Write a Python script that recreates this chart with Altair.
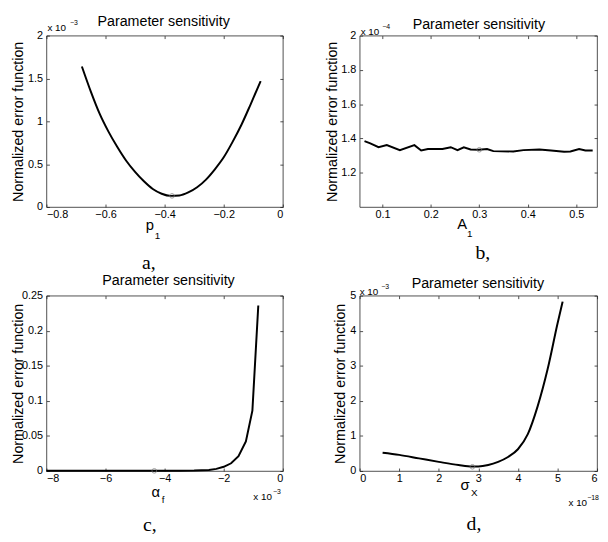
import altair as alt
import pandas as pd

# ---------------- data ----------------
xa = [-0.68, -0.65, -0.62, -0.59, -0.56, -0.53, -0.50, -0.47, -0.44, -0.41, -0.38,
      -0.35, -0.32, -0.29, -0.26, -0.23, -0.20, -0.17, -0.14, -0.11, -0.075]
ya = [1.64, 1.35, 1.09, 0.88, 0.70, 0.54, 0.41, 0.30, 0.21, 0.155, 0.13,
      0.135, 0.17, 0.23, 0.32, 0.44, 0.58, 0.76, 0.96, 1.19, 1.47]
ma = [-0.375, 0.13]

xb = [0.063, 0.075, 0.092, 0.109, 0.136, 0.166, 0.180, 0.194, 0.224, 0.241, 0.255, 0.268,
      0.282, 0.299, 0.316, 0.329, 0.370, 0.391, 0.424, 0.448, 0.475, 0.488, 0.506, 0.519, 0.534]
yb = [1.384, 1.371, 1.349, 1.361, 1.332, 1.361, 1.330, 1.338, 1.338, 1.349, 1.332, 1.348,
      1.336, 1.334, 1.338, 1.326, 1.324, 1.332, 1.336, 1.330, 1.322, 1.324, 1.338, 1.330, 1.330]
mb = [0.30, 1.334]

xc = [-8, -7, -6, -5, -4, -3.5, -3, -2.5, -2.25, -2, -1.75, -1.5, -1.25, -1.03, -0.83]
yc = [0.0005, 0.0004, 0.0003, 0.0002, 0.0002, 0.0003, 0.0006, 0.0015, 0.003, 0.006,
      0.011, 0.021, 0.042, 0.086, 0.236]
mc = [-4.35, 0.0002]

xd = [0.58, 1.0, 1.5, 2.0, 2.5, 2.85, 3.0, 3.25, 3.5, 3.75, 4.0, 4.25, 4.5, 4.75, 5.0, 5.13]
yd = [0.52, 0.46, 0.36, 0.26, 0.17, 0.13, 0.13, 0.17, 0.26, 0.40, 0.62, 1.05, 1.85, 2.9, 4.2, 4.83]
md = [2.85, 0.12]

ticks_xa = [-0.8, -0.6, -0.4, -0.2, 0]
ticks_ya = [0, 0.5, 1, 1.5, 2]
ticks_xb = [0.1, 0.2, 0.3, 0.4, 0.5]
ticks_yb = [1.2, 1.4, 1.6, 1.8, 2.0]
ticks_xc = [-8, -6, -4, -2, 0]
ticks_yc = [0, 0.05, 0.1, 0.15, 0.2, 0.25]
ticks_xd = [0, 1, 2, 3, 4, 5, 6]
ticks_yd = [0, 1, 2, 3, 4, 5]

TITLE = "Parameter sensitivity"
YTITLE = "Normalized error function"
SANS = "Liberation Sans"
SERIF = "Liberation Serif"
TK = 3


def axis(orient, values, labels=True, title=None, title_x=None):
    kw = dict(orient=orient, values=values, labels=labels, ticks=True, tickSize=TK,
              offset=-TK, domain=False, grid=False, tickColor="#222", tickWidth=0.8,
              labelFont=SANS, labelFontSize=11, labelColor="black", format="~g")
    if orient in ("bottom", "top"):
        kw["labelPadding"] = 2
    else:
        kw["labelPadding"] = 4
    if title is not None:
        kw.update(title=title, titleFont=SANS, titleFontSize=14.5, titleFontWeight="normal",
                  titleColor="black", titlePadding=5)
        if title_x is not None:
            kw["titleX"] = title_x
    else:
        kw["title"] = None
    return alt.Axis(**kw)


def text_layer(txt, px, py, size, font=SANS, align="left"):
    return alt.Chart(pd.DataFrame({"t": [txt]})).mark_text(
        font=font, fontSize=size, align=align, baseline="alphabetic", color="black"
    ).encode(x=alt.value(px), y=alt.value(py), text="t:N")


def panel(xs, ys, m, xdom, ydom, xt, yt, w, h, notes, title_x, interp="linear"):
    df = pd.DataFrame({"x": xs, "y": ys})
    mdf = pd.DataFrame({"x": [m[0]], "y": [m[1]]})
    xs_ = alt.Scale(domain=xdom, nice=False, zero=False)
    ys_ = alt.Scale(domain=ydom, nice=False, zero=False)
    line = alt.Chart(df).mark_line(color="black", strokeWidth=2, interpolate=interp).encode(
        x=alt.X("x:Q", scale=xs_, axis=axis("bottom", xt)),
        y=alt.Y("y:Q", scale=ys_, axis=axis("left", yt, title=YTITLE, title_x=title_x)),
    )
    mark = alt.Chart(mdf).mark_point(shape="circle", filled=False, color="#777",
                                      size=22, strokeWidth=1).encode(
        x=alt.X("x:Q", scale=xs_, axis=axis("top", xt, labels=False)),
        y=alt.Y("y:Q", scale=ys_, axis=axis("right", yt, labels=False)),
    )
    layers = [line, mark] + [text_layer(*n) for n in notes]
    return alt.layer(*layers).resolve_axis(x="independent", y="independent").properties(
        width=w, height=h)


notes_a = [
    (TITLE, 119, -9.5, 14.5, SANS, "center"),
    ("x 10", 1, -4.5, 10),
    ("\u22123", 24, -10.5, 7),
    ("p", 105, 197.5, 15, SANS, "center"),
    ("1", 110, 206.5, 10),
    ("a,", 104, 236.5, 20, SERIF, "center"),
]
notes_b = [
    (TITLE, 121, -6.5, 14.5, SANS, "center"),
    ("x 10", 1, -0.5, 10),
    ("\u22124", 23, -6.5, 7),
    ("A", 104, 196.5, 15, SANS, "center"),
    ("1", 109, 204.5, 10),
    ("b,", 125, 226.5, 20, SERIF, "center"),
]
notes_c = [
    (TITLE, 124, -10.5, 14.5, SANS, "center"),
    ("x 10", 210, 207.5, 10),
    ("\u22123", 230, 201.5, 7),
    ("\u03b1", 111, 204.5, 15, SANS, "center"),
    ("f", 117, 210.5, 10),
    ("c,", 105, 238.5, 20, SERIF, "center"),
]
notes_d = [
    (TITLE, 120, -7.5, 14.5, SANS, "center"),
    ("x 10", 0, -0.5, 10),
    ("\u22123", 22, -6.5, 7),
    ("x 10", 212, 213.5, 10),
    ("\u221218", 231, 207.5, 7),
    ("\u03c3", 107, 197.5, 15, SANS, "center"),
    ("X", 113, 203.5, 10),
    ("d,", 116, 237.5, 20, SERIF, "center"),
]

pa = panel(xa, ya, ma, [-0.8, 0], [0, 2], ticks_xa, ticks_ya, 240, 174, notes_a, -24,
           "monotone")
pb = panel(xb, yb, mb, [0.053, 0.543], [1.0, 2.0], ticks_xb, ticks_yb, 241, 174, notes_b, -23)
pc = panel(xc, yc, mc, [-8, 0], [0, 0.25], ticks_xc, ticks_yc, 240, 178, notes_c, -24)
pd_ = panel(xd, yd, md, [0, 6], [0, 5], ticks_xd, ticks_yd, 241, 178, notes_d, -15,
            "monotone")

chart = alt.concat(pa, pb, pc, pd_, columns=2, spacing={"row": 90, "column": 78},
                   bounds="flush").configure_view(
    stroke="#222", strokeWidth=0.8
).properties(padding={"left": 2, "top": 2, "right": 0, "bottom": 0}, background="white")

chart.save("out.html", embed_options={"renderer": "svg", "actions": False})
